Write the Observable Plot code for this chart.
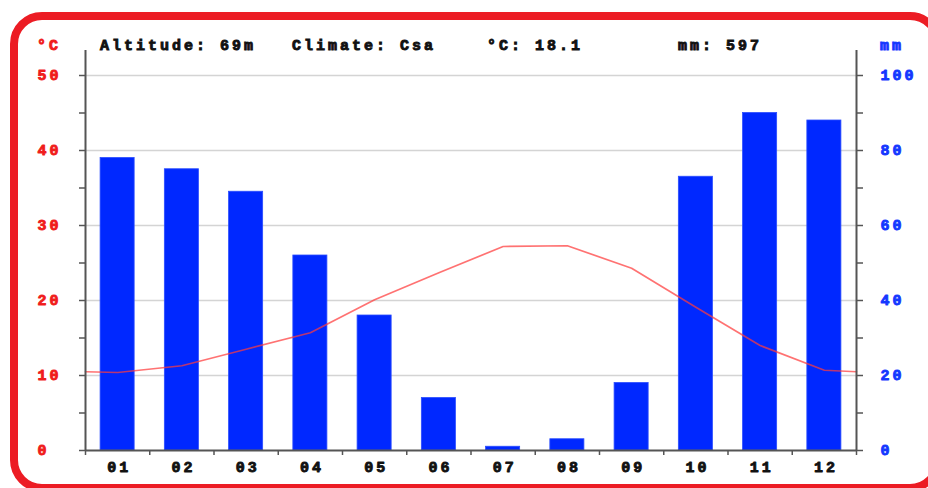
<!DOCTYPE html>
<html>
<head>
<meta charset="utf-8">
<script src="https://cdn.jsdelivr.net/npm/d3@7"></script>
<script src="https://cdn.jsdelivr.net/npm/@observablehq/plot@0.6"></script>
<style>
  html, body { margin: 0; padding: 0; background: #fff; overflow: hidden; }
  #wrap { position: relative; width: 928px; height: 488px; overflow: hidden; background: #fff; }
  #wrap svg { position: absolute; left: 0; top: 0; }
  #frame { position: absolute; left: 10px; top: 12px; width: 932px; height: 480px; box-sizing: border-box;
           border: 8px solid #ec1c24; border-radius: 32px; pointer-events: none; }
</style>
</head>
<body>
<div id="wrap"><div id="frame"></div></div>
<script>
// ---- data ----
const months = ["01","02","03","04","05","06","07","08","09","10","11","12"];
const precipMm = [78, 75, 69, 52, 36, 14, 1, 3, 18, 73, 90, 88];
const tempC = [10.4, 11.3, 13.5, 15.7, 20.1, 23.7, 27.2, 27.3, 24.3, 19.1, 14.0, 10.7];
const tempAtEdges = 10.5; // value where the curve meets both side axes
const tempTicks = [0, 10, 20, 30, 40, 50];
const minorTicks = [0, 5, 10, 15, 20, 25, 30, 35, 40, 45, 50];
const headerTexts = ["Altitude: 69m", "Climate: Csa", "°C: 18.1", "mm: 597"];
const leftUnit = "°C";
const rightUnit = "mm";

// mm axis is exactly twice the °C axis (0–100 mm vs 0–50 °C)
const MM_PER_C = 2;

const bars = months.map((m, i) => ({idx: i + 1, label: m, mm: precipMm[i]}));
const linePts = [{idx: 0.5, t: tempAtEdges}]
  .concat(months.map((m, i) => ({idx: i + 1, t: tempC[i]})))
  .concat([{idx: months.length + 0.5, t: tempAtEdges}]);
const boundaries = d3.range(0.5, months.length + 1, 1);

const RED = "#f01c1c", BLUE = "#1437ff", AXIS = "#555", INK = "#111";
const TSW = 0.9; // text stroke width, to thicken the glyphs

const chart = Plot.plot({
  width: 928,
  height: 488,
  marginLeft: 85,
  marginRight: 72,
  marginTop: 50,
  marginBottom: 38,
  style: {fontFamily: "'Liberation Mono', monospace", fontWeight: "bold", fontSize: "15px", letterSpacing: "3px", background: "transparent", overflow: "visible"},
  x: {type: "linear", domain: [0.5, months.length + 0.5], axis: null},
  y: {domain: [0, 160 / 3], axis: null},
  marks: [
    Plot.ruleY(tempTicks.filter(d => d > 0), {stroke: "#d4d4d4", strokeWidth: 1.6}),
    Plot.rectY(bars, {x1: d => d.idx - 0.265, x2: d => d.idx + 0.265, y1: 0, y2: d => d.mm / MM_PER_C, fill: "#0028ff", stroke: "#2a4dff", strokeWidth: 0.8}),
    Plot.line(linePts, {x: "idx", y: "t", stroke: "#ff3c3c", strokeOpacity: 0.72, strokeWidth: 1.7}),
    // frame lines
    Plot.ruleX([0.5, months.length + 0.5], {stroke: AXIS, strokeWidth: 2}),
    Plot.ruleY([0], {stroke: AXIS, strokeWidth: 2}),
    // left axis
    Plot.axisY({anchor: "left", label: null, ticks: minorTicks, tickSize: 6, tickFormat: () => "", stroke: AXIS, strokeWidth: 1.5}),
    Plot.axisY({anchor: "left", label: null, ticks: tempTicks, tickSize: 0, tickPadding: 48, textAnchor: "start", fill: RED, textStroke: RED, textStrokeWidth: TSW, tickFormat: d => String(d)}),
    // right axis
    Plot.axisY({anchor: "right", label: null, ticks: minorTicks, tickSize: 6, tickFormat: () => "", stroke: AXIS, strokeWidth: 1.5}),
    Plot.axisY({anchor: "right", label: null, ticks: tempTicks, tickSize: 0, tickPadding: 24, textAnchor: "start", fill: BLUE, textStroke: BLUE, textStrokeWidth: TSW, tickFormat: d => String(d * MM_PER_C)}),
    // bottom axis
    Plot.axisX({anchor: "bottom", label: null, ticks: boundaries, tickSize: 5, tickFormat: () => "", stroke: AXIS, strokeWidth: 1.5}),
    Plot.axisX({anchor: "bottom", label: null, ticks: bars.map(d => d.idx), tickSize: 0, tickPadding: 11, fill: INK, textStroke: INK, textStrokeWidth: TSW, dx: 1.5, tickFormat: d => months[d - 1]})
  ]
});

document.getElementById("wrap").insertBefore(chart, document.getElementById("frame"));

// header texts
const svg = d3.select(chart);
const g = svg.append("g")
  .attr("font-family", "'Liberation Mono', monospace")
  .attr("font-weight", "bold")
  .attr("font-size", 15)
  .attr("letter-spacing", "3px")
  .attr("text-anchor", "start")
  .attr("paint-order", "stroke")
  .attr("stroke-width", TSW);
const headerX = [100, 292, 487, 678];
headerTexts.forEach((t, i) => g.append("text").attr("x", headerX[i]).attr("y", 50).attr("fill", INK).attr("stroke", INK).text(t));
g.append("text").attr("x", 37).attr("y", 50).attr("fill", RED).attr("stroke", RED).text(leftUnit);
g.append("text").attr("x", 880).attr("y", 50).attr("fill", BLUE).attr("stroke", BLUE).text(rightUnit);
</script>
</body>
</html>
